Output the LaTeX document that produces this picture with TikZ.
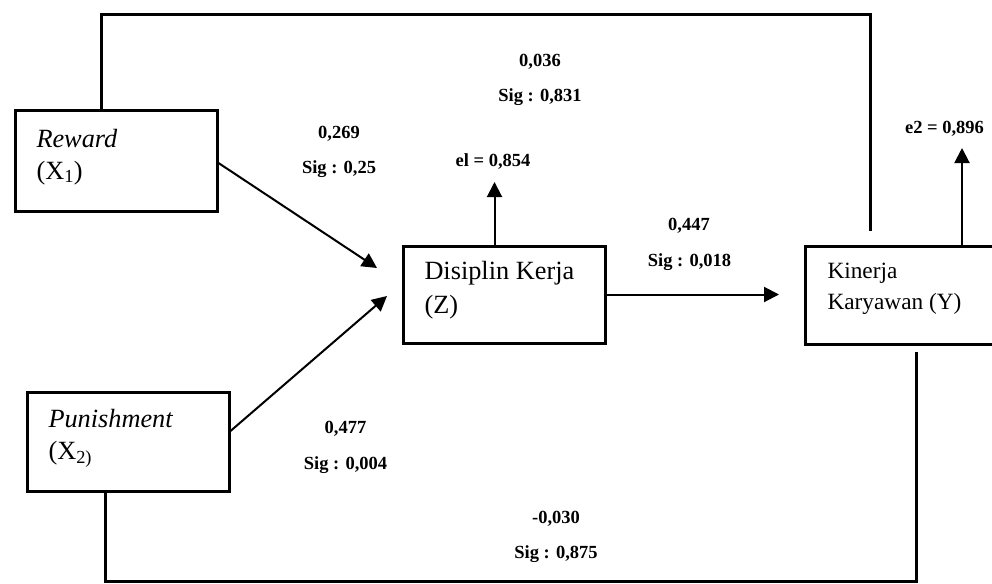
\documentclass[tikz,border=0pt]{standalone}
\usepackage{fontspec}
\setmainfont{Liberation Serif}
\usetikzlibrary{arrows.meta}
\newcommand\boxtxt[4]{\parbox[c][#1][t]{#2}{\raggedright\rule{0pt}{#3}#4}}
\begin{document}
\begin{tikzpicture}[x=1pt,y=-1pt,
  varbox/.style={draw, line width=3pt, inner ysep=0pt, inner xsep=21.5pt, anchor=north west},
  big/.style={font=\fontsize{26.3}{32}\selectfont},
  conn/.style={line width=3pt},
  arr/.style={line width=2pt, -{Triangle[length=15pt,width=15pt]}},
  lbl/.style={font=\fontsize{18.5}{22}\selectfont\bfseries, inner sep=0pt, anchor=base}]
\useasboundingbox (0,0) rectangle (992,583);
\clip (0,0) rectangle (992,583);
% boxes
\node[varbox] (R) at (13.5,109.5)
  {\boxtxt{100pt}{159pt}{36.2pt}{\fontsize{26.3}{32}\selectfont\textit{Reward}\\(X\textsubscript{1})}};
\node[varbox] (P) at (25.5,390.5)
  {\boxtxt{99pt}{159pt}{35.2pt}{\fontsize{26.3}{32}\selectfont\textit{Punishment}\\(X\textsubscript{2)}}};
\node[varbox] (Z) at (401.5,244.5)
  {\boxtxt{97pt}{159pt}{33.5pt}{\fontsize{26.3}{34}\selectfont Disiplin Kerja\\(Z)}};
\node[varbox, inner xsep=22.5pt] (Y) at (803.5,244.5)
  {\boxtxt{98pt}{157pt}{32.5pt}{\fontsize{23.3}{31}\selectfont Kinerja\\Karyawan (Y)}};
% coordinates
\coordinate (rs) at (0,163);
\coordinate (rtip) at (377,268);
\coordinate (ps) at (0,431);
\coordinate (ptip) at (387,296);
\coordinate (ztip) at (779,0);
\coordinate (e1tip) at (494.5,182);
\coordinate (e2tip) at (962,148);
\coordinate (t1) at (101.5,14.5);
\coordinate (t2) at (870,14.5);
\coordinate (topend) at (870,231);
\coordinate (b1) at (105.7,581);
\coordinate (b2) at (916,581);
\coordinate (botend) at (916,352);
% connectors
\draw[conn] (R.north -| t1) -- (t1) -- (t2) -- (topend);
\draw[conn] (P.south -| b1) -- (b1) -- (b2) -- (botend);
\draw[arr] (R.east |- rs) -- (rtip);
\draw[arr] (P.east |- ps) -- (ptip);
\draw[arr] (Z.east) -- (Z.east -| ztip);
\draw[arr] (Z.north -| e1tip) -- (e1tip);
\draw[arr] (Y.north -| e2tip) -- (e2tip);
% labels
\node[lbl] (l1a) at (540,67) {0,036};
\node[lbl] (l1b) at (540,102) {Sig : 0,831};
\node[lbl] (l2a) at (339,138) {0,269};
\node[lbl] (l2b) at (339,173) {Sig : 0,25};
\node[lbl] (le1) at (493,166) {el = 0,854};
\node[lbl] (le2) at (944.5,133) {e2 = 0,896};
\node[lbl] (l3a) at (689,230) {0,447};
\node[lbl] (l3b) at (689.5,266) {Sig : 0,018};
\node[lbl] (l4a) at (345.5,433) {0,477};
\node[lbl] (l4b) at (345.5,469) {Sig : 0,004};
\node[lbl] (l5a) at (556,523) {-0,030};
\node[lbl] (l5b) at (556,558) {Sig : 0,875};
\end{tikzpicture}
\end{document}
